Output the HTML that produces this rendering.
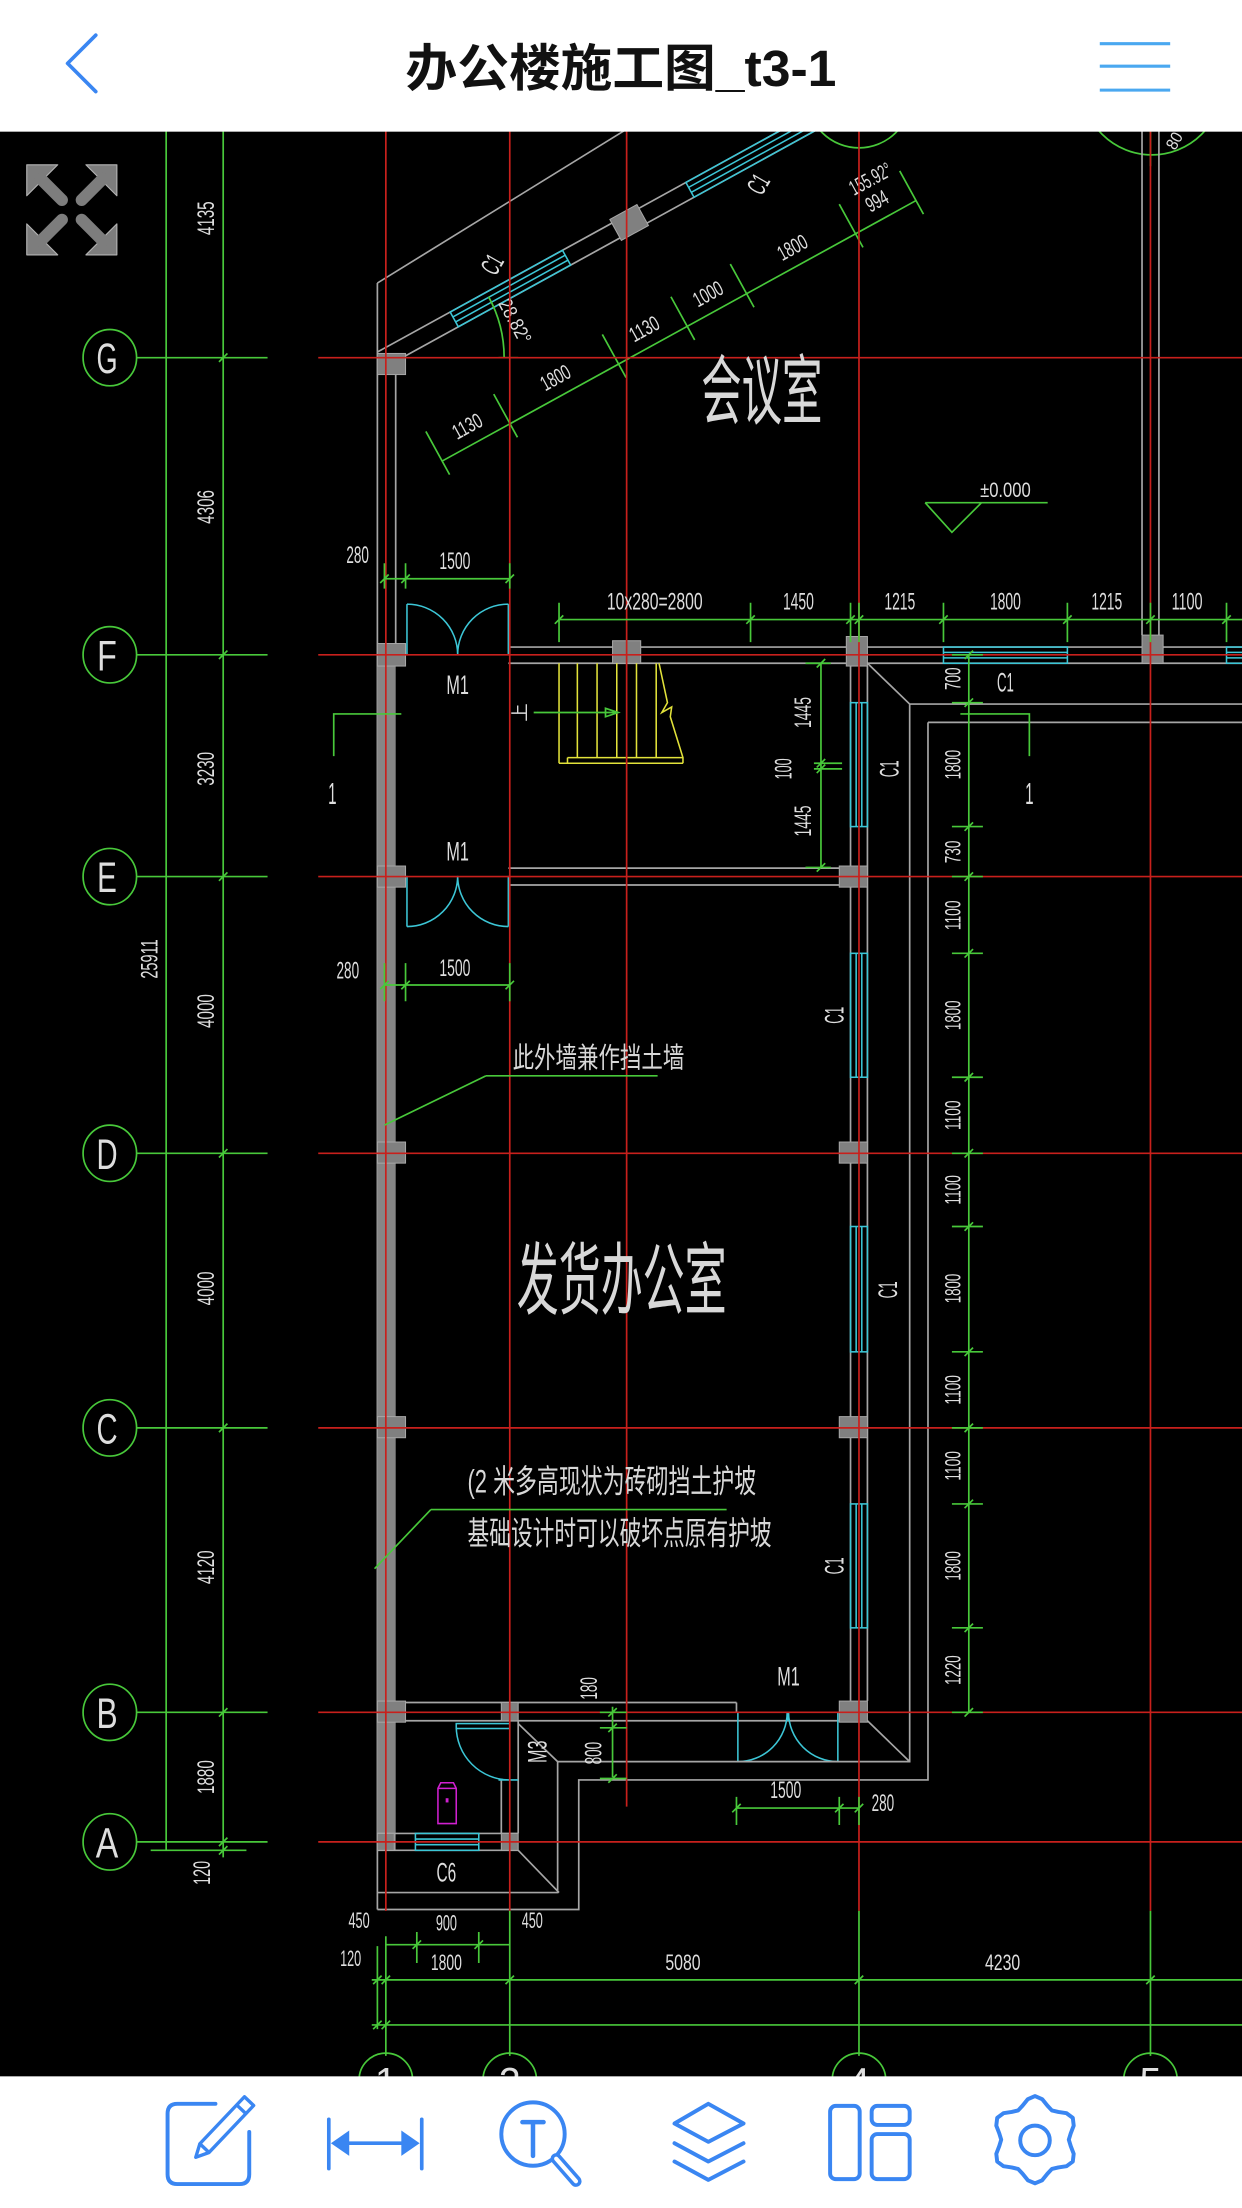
<!DOCTYPE html>
<html><head><meta charset="utf-8"><title>办公楼施工图_t3-1</title>
<style>
html,body{margin:0;padding:0;background:#fff;width:1242px;height:2208px;overflow:hidden}
svg{display:block}
.r{stroke:#c8201c;stroke-width:1.2;fill:none}
.g{stroke:#48c83a;stroke-width:1.2;fill:none}
.w{stroke:#a6a6a6;stroke-width:1.2;fill:none}
.c{stroke:#3cc6d6;stroke-width:1.1;fill:none}
.y{stroke:#e2e23a;stroke-width:1.1;fill:none}
.col{fill:#808080;stroke:#a8a8a8;stroke-width:.7}
.t{fill:#dedede;font-family:"Liberation Sans",sans-serif;font-size:17px;text-anchor:middle}
.k{fill:#d8d8d8;font-family:"Liberation Sans","Noto Sans CJK SC","WenQuanYi Zen Hei",sans-serif;text-anchor:middle}
.i{stroke:#3a86f2;stroke-width:2.8;fill:none;stroke-linecap:round;stroke-linejoin:round}
</style></head><body>
<svg width="1242" height="2208" viewBox="0 0 882 1568" preserveAspectRatio="none" xmlns="http://www.w3.org/2000/svg">
<rect x="0" y="0" width="882" height="1568" fill="#fff"/>
<rect x="0" y="93" width="882" height="1382" fill="#000"/>

<!-- top partial circles -->
<circle class="g" cx="610" cy="68" r="37"/>
<circle class="g" cx="818" cy="60" r="50"/>
<path class="g" d="M817,93V118"/>
<text class="t" transform="translate(834,100) rotate(-60)" y="4" style="font-size:12px" textLength="12" lengthAdjust="spacingAndGlyphs">80</text>

<!-- expand icon -->
<g fill="#7d7d7d" stroke="#b4b4b4" stroke-width="0.8" stroke-linejoin="round">
<polygon points="19,117 41,117 19,139"/>
<polygon points="83,117 61,117 83,139"/>
<polygon points="19,181 41,181 19,159"/>
<polygon points="83,181 61,181 83,159"/>
</g>
<g stroke="#7d7d7d" stroke-width="8.5" stroke-linecap="round">
<line x1="29" y1="127" x2="44" y2="142"/>
<line x1="73" y1="127" x2="58" y2="142"/>
<line x1="29" y1="171" x2="44" y2="156"/>
<line x1="73" y1="171" x2="58" y2="156"/>
</g>

<!-- left dimension system -->
<g class="g">
<line x1="118" y1="93" x2="118" y2="1314"/>
<line x1="158.5" y1="93" x2="158.5" y2="1319"/>
<path d="M97,254H190 M97,465H190 M97,622.5H190 M97,819H190 M97,1014H190 M97,1216H190 M97,1308H190 M107,1314H175"/>
<path d="M155.5,257l6,-6 M155.5,468l6,-6 M155.5,625.5l6,-6 M155.5,822l6,-6 M155.5,1017l6,-6 M155.5,1219l6,-6 M155.5,1311l6,-6 M155.5,1317l6,-6"/>
<ellipse cx="78" cy="254" rx="19" ry="20"/>
<ellipse cx="78" cy="465" rx="19" ry="20"/>
<ellipse cx="78" cy="622.5" rx="19" ry="20"/>
<ellipse cx="78" cy="819" rx="19" ry="20"/>
<ellipse cx="78" cy="1014" rx="19" ry="20"/>
<ellipse cx="78" cy="1216" rx="19" ry="20"/>
<ellipse cx="78" cy="1308" rx="19" ry="20"/>
</g>
<g class="t" style="font-size:30px" lengthAdjust="spacingAndGlyphs">
<text x="76" y="265" textLength="15" lengthAdjust="spacingAndGlyphs">G</text>
<text x="76" y="476" textLength="14" lengthAdjust="spacingAndGlyphs">F</text>
<text x="76" y="633.5" textLength="14" lengthAdjust="spacingAndGlyphs">E</text>
<text x="76" y="830" textLength="15" lengthAdjust="spacingAndGlyphs">D</text>
<text x="76" y="1025" textLength="15" lengthAdjust="spacingAndGlyphs">C</text>
<text x="76" y="1227" textLength="15" lengthAdjust="spacingAndGlyphs">B</text>
<text x="76" y="1319" textLength="16" lengthAdjust="spacingAndGlyphs">A</text>
</g>
<g class="t">
<text transform="translate(146,155) rotate(-90)" y="6" textLength="24" lengthAdjust="spacingAndGlyphs">4135</text>
<text transform="translate(146,360) rotate(-90)" y="6" textLength="24" lengthAdjust="spacingAndGlyphs">4306</text>
<text transform="translate(146,546) rotate(-90)" y="6" textLength="24" lengthAdjust="spacingAndGlyphs">3230</text>
<text transform="translate(146,718) rotate(-90)" y="6" textLength="24" lengthAdjust="spacingAndGlyphs">4000</text>
<text transform="translate(146,915) rotate(-90)" y="6" textLength="24" lengthAdjust="spacingAndGlyphs">4000</text>
<text transform="translate(146,1113) rotate(-90)" y="6" textLength="24" lengthAdjust="spacingAndGlyphs">4120</text>
<text transform="translate(146,1262) rotate(-90)" y="6" textLength="24" lengthAdjust="spacingAndGlyphs">1880</text>
<text transform="translate(143,1330) rotate(-90)" y="6" textLength="17" lengthAdjust="spacingAndGlyphs">120</text>
<text transform="translate(106,681) rotate(-90)" y="6" textLength="28" lengthAdjust="spacingAndGlyphs">25911</text>
</g>

<!-- walls: left -->
<path class="w" d="M268,201V1356 M281,266V457 M268,201L443,93"/>
<rect x="268" y="457" width="13" height="857" fill="#868686"/>

<!-- diagonal wall -->
<g transform="translate(268,250) rotate(-28.8)">
<line class="w" x1="0" y1="0" x2="380" y2="0"/>
<line class="w" x1="16" y1="12" x2="400" y2="12"/>
<rect class="c" x="59" y="0" width="91" height="12" fill="#000"/>
<path class="c" d="M59,4H150 M59,8H150"/>
<rect class="c" x="250" y="0" width="150" height="12" fill="#000"/>
<path class="c" d="M250,4H400 M250,8H400"/>
<rect class="col" x="190" y="-3" width="22" height="17"/>
<line class="g" x1="3" y1="90" x2="387" y2="90"/>
<path class="g" d="M3,66V101 M58,66V101 M146,66V101 M201.6,66V101 M249.7,66V101 M338,66V101 M387,66V101"/>
<g class="t" style="font-size:15px">
<text x="30.5" y="82" textLength="22" lengthAdjust="spacingAndGlyphs">1130</text>
<text x="102" y="82" textLength="22" lengthAdjust="spacingAndGlyphs">1800</text>
<text x="174" y="82" textLength="22" lengthAdjust="spacingAndGlyphs">1130</text>
<text x="225.6" y="82" textLength="22" lengthAdjust="spacingAndGlyphs">1000</text>
<text x="294" y="82" textLength="22" lengthAdjust="spacingAndGlyphs">1800</text>
<text x="362.5" y="82" textLength="16" lengthAdjust="spacingAndGlyphs">994</text>
<text x="366" y="66" textLength="32" lengthAdjust="spacingAndGlyphs">155.92°</text>
</g>
</g>
<text class="t" transform="translate(350,188) rotate(-60)" y="6" style="font-size:19px" textLength="13" lengthAdjust="spacingAndGlyphs">C1</text>
<text class="t" transform="translate(539,131) rotate(-60)" y="6" style="font-size:19px" textLength="13" lengthAdjust="spacingAndGlyphs">C1</text>
<path class="g" d="M358,254 A90,90 0 0 0 346.9,210.6 M354,254H368"/>
<text class="t" transform="translate(366,228) rotate(62)" y="5" style="font-size:14px" textLength="34" lengthAdjust="spacingAndGlyphs">28.82°</text>

<!-- axis 5 wall -->
<path class="w" d="M811,93V451 M823,93V451"/>

<!-- F row -->
<path class="w" d="M361,459.5H882 M361,471H882"/>
<rect class="c" x="670" y="459.5" width="88" height="11.5" fill="#000"/>
<path class="c" d="M670,463.3H758 M670,467.2H758"/>
<rect class="c" x="871" y="459.5" width="20" height="11.5" fill="#000"/>
<path class="c" d="M871,463.3H882 M871,467.2H882"/>
<path class="c" d="M289,429V465 M361,429V465 M289,429A36,36 0 0 1 325,465 M361,429A36,36 0 0 0 325,465"/>

<!-- E row -->
<path class="w" d="M361,616.5H596 M361,628.5H596"/>
<path class="c" d="M289,622V658 M361,622V658 M289,658A36,36 0 0 0 325,622 M361,658A36,36 0 0 1 325,622"/>

<!-- right wall -->
<path class="w" d="M604,473V1208 M616,473V1208"/>
<g>
<rect class="c" x="604" y="499" width="12" height="88" fill="#000"/>
<rect class="c" x="604" y="677" width="12" height="88" fill="#000"/>
<rect class="c" x="604" y="871" width="12" height="89" fill="#000"/>
<rect class="c" x="604" y="1068" width="12" height="88" fill="#000"/>
<path class="c" d="M608,499V587 M612,499V587 M608,677V765 M612,677V765 M608,871V960 M612,871V960 M608,1068V1156 M612,1068V1156"/>
</g>

<!-- B row -->
<path class="w" d="M288,1209H523 M288,1222H616 M523,1209V1216"/>
<path class="c" d="M524,1216V1251 M595,1216V1251 M524,1251A35,35 0 0 0 559,1216 M595,1251A35,35 0 0 1 560,1216 M559.5,1216V1222"/>

<!-- exterior outlines -->
<path class="w" d="M616,471L646,500H882 M646,500V1251H396V1344H268 M616,1222L646,1251 M368,1224L396,1251 M368,1314L397,1344"/>
<path class="w" d="M659,513H882 M659,513V1264H411V1356H268"/>

<!-- axis 2 wall B-A & M3 door -->
<path class="w" d="M368,1222V1302 M356,1263V1302"/>
<rect class="c" x="324" y="1224" width="38" height="3.5"/>
<path class="c" d="M324,1226A38,38 0 0 0 362,1264 M354,1264H368"/>

<!-- A row -->
<path class="w" d="M268,1302H368 M268,1314H368"/>
<rect class="c" x="295" y="1302" width="45" height="12" fill="#000"/>
<path class="c" d="M295,1306H340 M295,1310H340"/>

<!-- magenta fixture -->
<path d="M311,1270L313,1266H322L324,1270V1295H311Z M311,1270H324" stroke="#d020d0" stroke-width="1.1" fill="none"/>
<rect x="316.5" y="1277" width="2" height="3" fill="#d020d0"/>

<!-- columns -->
<g>
<rect class="col" x="268" y="251" width="20" height="15"/>
<rect class="col" x="268" y="457" width="20" height="16"/>
<rect class="col" x="435" y="455" width="20" height="16"/>
<rect class="col" x="601" y="452" width="15" height="21"/>
<rect class="col" x="811" y="451" width="15" height="20"/>
<rect class="col" x="268" y="615" width="20" height="15"/>
<rect class="col" x="596" y="615" width="20" height="15"/>
<rect class="col" x="268" y="811" width="20" height="15"/>
<rect class="col" x="596" y="811" width="20" height="15"/>
<rect class="col" x="268" y="1006" width="20" height="15"/>
<rect class="col" x="596" y="1006" width="20" height="15"/>
<rect class="col" x="268" y="1208" width="20" height="15"/>
<rect class="col" x="596" y="1208" width="20" height="15"/>
<rect class="col" x="356" y="1209" width="12" height="13"/>
<rect class="col" x="268" y="1302" width="12" height="12"/>
<rect class="col" x="356" y="1302" width="12" height="12"/>
</g>

<!-- stairs -->
<path class="y" d="M397,471V542 M410,471V538 M424,471V538 M438,471V538 M452,471V538 M466,471V538 M403,538H485 M397,542H485 M403,538V542 M468,471L474,499L470,506L477,502L476,509L485,538V542"/>
<path class="g" d="M379,506H439 M430,503L439,506L430,509Z"/>
<text class="k" transform="translate(369,506) rotate(-90)" y="5" style="font-size:13px">上</text>

<!-- red grid -->
<path class="r" d="M274,93V1357 M362,93V1357 M445,93V1283 M610,93V1357 M817,93V1357"/>
<path class="r" d="M226,254H882 M226,465H882 M226,622.5H882 M226,819H882 M226,1014H882 M226,1216H882 M226,1308H882"/>

<!-- top dims F row -->
<path class="g" d="M397,440H882 M397,428V456 M533,428V456 M604,428V456 M610,428V456 M670,428V456 M758,428V456 M817,428V456 M871,428V456"/>
<path class="g" d="M394,443l6,-6 M530,443l6,-6 M601,443l6,-6 M607,443l6,-6 M667,443l6,-6 M755,443l6,-6 M814,443l6,-6 M868,443l6,-6"/>
<g class="t">
<text x="465" y="433" textLength="68" lengthAdjust="spacingAndGlyphs">10x280=2800</text>
<text x="567" y="433" textLength="22" lengthAdjust="spacingAndGlyphs">1450</text>
<text x="639" y="433" textLength="22" lengthAdjust="spacingAndGlyphs">1215</text>
<text x="714" y="433" textLength="22" lengthAdjust="spacingAndGlyphs">1800</text>
<text x="786" y="433" textLength="22" lengthAdjust="spacingAndGlyphs">1215</text>
<text x="843" y="433" textLength="22" lengthAdjust="spacingAndGlyphs">1100</text>
</g>

<!-- door dims -->
<path class="g" d="M273,411H362 M273,400V418 M288,400V418 M362,400V418 M270,414l6,-6 M285,414l6,-6 M359,414l6,-6"/>
<path class="g" d="M273,699.5H362 M273,684V711 M288,684V711 M362,684V711 M270,702.5l6,-6 M285,702.5l6,-6 M359,702.5l6,-6"/>
<g class="t">
<text x="254" y="400" textLength="16" lengthAdjust="spacingAndGlyphs">280</text>
<text x="323" y="404" textLength="22" lengthAdjust="spacingAndGlyphs">1500</text>
<text x="247" y="695" textLength="16" lengthAdjust="spacingAndGlyphs">280</text>
<text x="323" y="693" textLength="22" lengthAdjust="spacingAndGlyphs">1500</text>
</g>

<!-- stair dims -->
<path class="g" d="M583,471V616 M572,471H590 M578,542H598 M578,546H598 M572,616H590 M580,474l6,-6 M580,545l6,-6 M580,549l6,-6 M580,619l6,-6"/>
<g class="t">
<text transform="translate(570,506) rotate(-90)" y="6" textLength="22" lengthAdjust="spacingAndGlyphs">1445</text>
<text transform="translate(556,546) rotate(-90)" y="6" textLength="15" lengthAdjust="spacingAndGlyphs">100</text>
<text transform="translate(570,583) rotate(-90)" y="6" textLength="22" lengthAdjust="spacingAndGlyphs">1445</text>
</g>

<!-- section marks -->
<path class="g" d="M237,537V507H285 M682,507H731V537"/>
<text class="t" x="236" y="571" style="font-size:22px" textLength="6" lengthAdjust="spacingAndGlyphs">1</text>
<text class="t" x="731" y="571" style="font-size:22px" textLength="6" lengthAdjust="spacingAndGlyphs">1</text>

<!-- elevation mark -->
<path class="g" d="M657,357H744 M657,357L676,378L697,357"/>
<text class="t" x="714" y="353" style="font-size:15px" textLength="36" lengthAdjust="spacingAndGlyphs">±0.000</text>

<!-- right dim -->
<path class="g" d="M688,465V1216"/>
<path class="g" d="M676,465H698 M676,499H698 M676,587H698 M676,622.5H698 M676,677H698 M676,765H698 M676,819H698 M676,871H698 M676,960H698 M676,1014H698 M676,1068H698 M676,1156H698 M676,1216H698"/>
<path class="g" d="M685,468l6,-6 M685,502l6,-6 M685,590l6,-6 M685,625.5l6,-6 M685,680l6,-6 M685,768l6,-6 M685,822l6,-6 M685,874l6,-6 M685,963l6,-6 M685,1017l6,-6 M685,1071l6,-6 M685,1159l6,-6 M685,1219l6,-6"/>
<g class="t" style="font-size:16px">
<text transform="translate(676,482) rotate(-90)" y="6" textLength="16" lengthAdjust="spacingAndGlyphs">700</text>
<text transform="translate(676,543) rotate(-90)" y="6" textLength="21" lengthAdjust="spacingAndGlyphs">1800</text>
<text transform="translate(676,605) rotate(-90)" y="6" textLength="16" lengthAdjust="spacingAndGlyphs">730</text>
<text transform="translate(676,650) rotate(-90)" y="6" textLength="21" lengthAdjust="spacingAndGlyphs">1100</text>
<text transform="translate(676,721) rotate(-90)" y="6" textLength="21" lengthAdjust="spacingAndGlyphs">1800</text>
<text transform="translate(676,792) rotate(-90)" y="6" textLength="21" lengthAdjust="spacingAndGlyphs">1100</text>
<text transform="translate(676,845) rotate(-90)" y="6" textLength="21" lengthAdjust="spacingAndGlyphs">1100</text>
<text transform="translate(676,915) rotate(-90)" y="6" textLength="21" lengthAdjust="spacingAndGlyphs">1800</text>
<text transform="translate(676,987) rotate(-90)" y="6" textLength="21" lengthAdjust="spacingAndGlyphs">1100</text>
<text transform="translate(676,1041) rotate(-90)" y="6" textLength="21" lengthAdjust="spacingAndGlyphs">1100</text>
<text transform="translate(676,1112) rotate(-90)" y="6" textLength="21" lengthAdjust="spacingAndGlyphs">1800</text>
<text transform="translate(676,1186) rotate(-90)" y="6" textLength="21" lengthAdjust="spacingAndGlyphs">1220</text>
</g>

<!-- window / door labels -->
<g class="t" style="font-size:19px">
<text transform="translate(631,546) rotate(-90)" y="7" textLength="12" lengthAdjust="spacingAndGlyphs">C1</text>
<text transform="translate(592,721) rotate(-90)" y="7" textLength="12" lengthAdjust="spacingAndGlyphs">C1</text>
<text transform="translate(630,916) rotate(-90)" y="7" textLength="12" lengthAdjust="spacingAndGlyphs">C1</text>
<text transform="translate(592,1112) rotate(-90)" y="7" textLength="12" lengthAdjust="spacingAndGlyphs">C1</text>
<text x="714" y="491" textLength="12" lengthAdjust="spacingAndGlyphs">C1</text>
<text x="325" y="493" textLength="16" lengthAdjust="spacingAndGlyphs">M1</text>
<text x="325" y="611" textLength="16" lengthAdjust="spacingAndGlyphs">M1</text>
<text x="560" y="1197" textLength="16" lengthAdjust="spacingAndGlyphs">M1</text>
<text x="317" y="1336" textLength="14" lengthAdjust="spacingAndGlyphs">C6</text>
<text transform="translate(381,1244) rotate(-90)" y="7" textLength="16" lengthAdjust="spacingAndGlyphs">M3</text>
</g>

<!-- B area dims -->
<path class="g" d="M435,1212V1262 M426,1216H445 M426,1227H445 M426,1263H445 M432,1219l6,-6 M432,1230l6,-6 M432,1266l6,-6"/>
<path class="g" d="M523,1284H610 M523,1276V1296 M596,1276V1296 M610,1276V1296 M520,1287l6,-6 M593,1287l6,-6 M607,1287l6,-6"/>
<g class="t">
<text transform="translate(418,1199) rotate(-90)" y="6" textLength="16" lengthAdjust="spacingAndGlyphs">180</text>
<text transform="translate(421,1245) rotate(-90)" y="6" textLength="16" lengthAdjust="spacingAndGlyphs">800</text>
<text x="558" y="1277" textLength="22" lengthAdjust="spacingAndGlyphs">1500</text>
<text x="627" y="1286" textLength="16" lengthAdjust="spacingAndGlyphs">280</text>
</g>

<!-- bottom dims -->
<path class="g" d="M268,1382V1441 M274,1375V1460 M362,1357V1460 M610,1357V1460 M817,1357V1460 M264,1406H882 M264,1438H882 M274,1381H362 M296,1372V1394 M340,1372V1394"/>
<path class="g" d="M265,1409l6,-6 M271,1409l6,-6 M359,1409l6,-6 M607,1409l6,-6 M814,1409l6,-6 M265,1441l6,-6 M271,1441l6,-6 M293,1384l6,-6 M337,1384l6,-6"/>
<g class="g">
<circle cx="274" cy="1477" r="19"/>
<circle cx="362" cy="1477" r="19"/>
<circle cx="610" cy="1477" r="19"/>
<circle cx="817" cy="1477" r="19"/>
</g>
<g class="t" style="font-size:28px">
<text x="274" y="1488">1</text>
<text x="362" y="1488">2</text>
<text x="610" y="1488">4</text>
<text x="817" y="1488">5</text>
</g>
<g class="t" style="font-size:16px">
<text x="255" y="1369" textLength="15" lengthAdjust="spacingAndGlyphs">450</text>
<text x="317" y="1371" textLength="15" lengthAdjust="spacingAndGlyphs">900</text>
<text x="378" y="1369" textLength="15" lengthAdjust="spacingAndGlyphs">450</text>
<text x="249" y="1396" textLength="15" lengthAdjust="spacingAndGlyphs">120</text>
<text x="317" y="1399" textLength="22" lengthAdjust="spacingAndGlyphs">1800</text>
<text x="485" y="1399" textLength="25" lengthAdjust="spacingAndGlyphs">5080</text>
<text x="712" y="1399" textLength="25" lengthAdjust="spacingAndGlyphs">4230</text>
</g>

<!-- leaders & notes -->
<path class="g" d="M345,764H467 M345,764L273,799"/>
<path class="g" d="M306,1072H516 M306,1072L266,1114"/>
<text class="k" x="425" y="758" style="font-size:20px" textLength="122" lengthAdjust="spacingAndGlyphs">此外墙兼作挡土墙</text>
<text class="k" x="434.5" y="1060" style="font-size:23px" textLength="205" lengthAdjust="spacingAndGlyphs">(2 米多高现状为砖砌挡土护坡</text>
<text class="k" x="440" y="1097" style="font-size:23px" textLength="216" lengthAdjust="spacingAndGlyphs">基础设计时可以破坏点原有护坡</text>
<text class="k" x="541" y="297" style="font-size:54px" textLength="86" lengthAdjust="spacingAndGlyphs">会议室</text>
<text class="k" x="441.5" y="929" style="font-size:56px" textLength="149" lengthAdjust="spacingAndGlyphs">发货办公室</text>

<!-- header -->
<rect x="0" y="0" width="882" height="93.5" fill="#fff"/>
<polyline points="68,25 48,45 68,65" fill="none" stroke="#3a86f2" stroke-width="2.6" stroke-linecap="round" stroke-linejoin="round"/>
<text x="441" y="61" style="font-family:'Liberation Sans','Noto Sans CJK SC',sans-serif;font-size:36px;font-weight:bold;fill:#111;text-anchor:middle" textLength="306" lengthAdjust="spacingAndGlyphs">办公楼施工图_t3-1</text>
<path d="M781,31H831 M781,47H831 M781,64H831" stroke="#4aa8f0" stroke-width="2.2"/>

<!-- toolbar -->
<rect x="0" y="1474.5" width="882" height="94" fill="#fff"/>
<g class="i">
<path d="M153,1494H126Q119,1494 119,1501V1544Q119,1551 126,1551H170Q177,1551 177,1544V1514"/>
<g transform="translate(139,1532) rotate(-46.5)"><path d="M0,0L9,-4.5H55V4.5H9Z M9,-4.5V4.5 M47,-4.5V4.5" stroke-width="2.4"/></g>
<path d="M233.5,1505V1540 M299.5,1505V1540 M244,1522H289" stroke-width="2.6"/>
<circle cx="378.5" cy="1515.5" r="22.5"/>
<path d="M371,1507H386 M378.5,1507V1531" stroke-width="3.2"/>
<polygon points="503,1494 528,1508 503,1521 479,1508"/>
<polyline points="479,1522 503,1535 528,1522"/>
<polyline points="479,1535 503,1548 528,1535"/>
<rect x="589.5" y="1495.5" width="21" height="52" rx="4"/>
<rect x="619" y="1495.5" width="27" height="13.5" rx="4"/>
<rect x="619" y="1515.5" width="27" height="32" rx="4"/>
<g transform="translate(0,-1.5)">
<polygon points="759,1521 760.36,1525.47 762.49,1531 761.85,1536.5 757.41,1539.8 751.55,1540.72 747,1541.78 743.81,1545.2 740.08,1549.8 735,1552 729.92,1549.8 726.19,1545.2 723,1541.78 718.45,1540.72 712.59,1539.8 708.15,1536.5 707.51,1531 709.64,1525.47 711,1521 709.64,1516.53 707.51,1511 708.15,1505.5 712.59,1502.2 718.45,1501.28 723,1500.22 726.19,1496.8 729.92,1492.2 735,1490 740.08,1492.2 743.81,1496.8 747,1500.22 751.55,1501.28 757.41,1502.2 761.85,1505.5 762.49,1511 760.36,1516.53"/>
</g>
<circle cx="735" cy="1520" r="10.5"/>
</g>
<path d="M235,1522L248,1513V1531Z M298,1522L285,1513V1531Z" fill="#3a86f2"/>
<line x1="395" y1="1533" x2="409" y2="1549" stroke="#3a86f2" stroke-width="8" stroke-linecap="round"/>
<line x1="395" y1="1533" x2="409" y2="1549" stroke="#fff" stroke-width="3" stroke-linecap="round"/>
</svg>
</body></html>
